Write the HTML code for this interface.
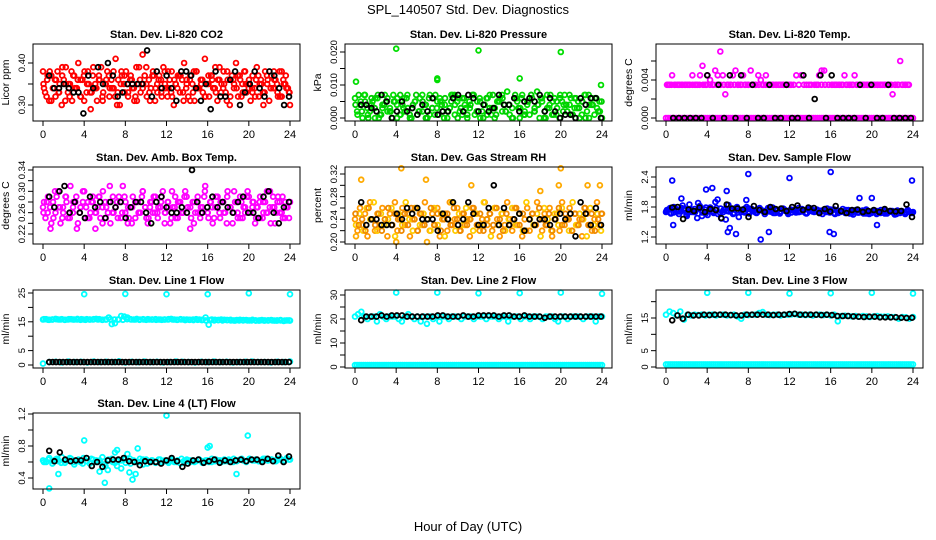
<!DOCTYPE html>
<html><head><meta charset="utf-8">
<style>
html,body{margin:0;padding:0;background:#fff}
svg{display:block;font-family:"Liberation Sans",Arial,sans-serif}
</style></head>
<body>
<svg id="chart" width="936" height="540" viewBox="0 0 936 540">
<text x="468" y="14" text-anchor="middle" font-size="13">SPL_140507  Std. Dev. Diagnostics</text>
<text x="468" y="531" text-anchor="middle" font-size="13">Hour of Day (UTC)</text>
</svg>
<script>
// ---- data arrays ----
const hourTicks = [0,4,8,12,16,20,24];

const co2Red = [0.38,0.33,0.36,0.31,0.37,0.34,0.32,0.38,0.35,0.30,0.36,0.39,0.33,0.35,0.31,0.37,0.34,0.40,0.32,0.36,0.38,0.33,0.35,0.29,0.37,0.34,0.31,0.36,0.39,0.33,0.35,0.38,0.32,0.36,0.34,0.41,0.33,0.30,0.37,0.35,0.38,0.32,0.36,0.34,0.31,0.39,0.35,0.33,0.42,0.37,0.32,0.36,0.34,0.38,0.31,0.35,0.37,0.33,0.39,0.34,0.32,0.36,0.38,0.30,0.35,0.37,0.33,0.36,0.40,0.34,0.32,0.37,0.35,0.31,0.38,0.34,0.36,0.33,0.41,0.35,0.32,0.37,0.34,0.39,0.31,0.36,0.35,0.38,0.33,0.36,0.30,0.37,0.34,0.40,0.32,0.36,0.35,0.38,0.33,0.35,0.31,0.37,0.34,0.39,0.32,0.36,0.33,0.38,0.35,0.31,0.37,0.34,0.36,0.33,0.38,0.32,0.35,0.37,0.34,0.30];
const co2Red2 = [0.34,0.37,0.31,0.36,0.33,0.39,0.35,0.32,0.37,0.34,0.36,0.31,0.38,0.33,0.35,0.37,0.32,0.36,0.34,0.38,0.30,0.35,0.37,0.33,0.36,0.32,0.39,0.34,0.35,0.31,0.37,0.33,0.36,0.38,0.34,0.32,0.35,0.37,0.33,0.36,0.31,0.38,0.34,0.35,0.32,0.37,0.36,0.33,0.39,0.34,0.31,0.36,0.35,0.37,0.32,0.38,0.34,0.33,0.36,0.35,0.30,0.37,0.34,0.36,0.32,0.38,0.35,0.33];
const co2Red3 = [0.35,0.32,0.38,0.34,0.36,0.33,0.37,0.31,0.35,0.38,0.34,0.36,0.32,0.37,0.35,0.33,0.39,0.34,0.36,0.31,0.35,0.37,0.34,0.32,0.36,0.38,0.33,0.35,0.37,0.34,0.31,0.36,0.35,0.39,0.33,0.37,0.34,0.36,0.32,0.35,0.38,0.33,0.36,0.34,0.37,0.31,0.35,0.36,0.33,0.38,0.34,0.36,0.32,0.35,0.37,0.34,0.36,0.33,0.35,0.38,0.32,0.36,0.34,0.37,0.33,0.35,0.36,0.34,0.32,0.37,0.35,0.33,0.36,0.34,0.38,0.35,0.32,0.36,0.34,0.33];
const co2Black = [0.37,0.34,0.34,0.35,0.34,0.33,0.33,0.28,0.37,0.34,0.39,0.35,0.40,0.37,0.32,0.33,0.35,0.35,0.35,0.35,0.43,0.32,0.38,0.34,0.37,0.34,0.31,0.38,0.38,0.37,0.34,0.31,0.35,0.29,0.38,0.32,0.32,0.36,0.38,0.30,0.33,0.35,0.38,0.34,0.32,0.38,0.37,0.34,0.30,0.32];

const presGreen = [0.006,0.001,0.004,0.000,0.007,0.003,0.002,0.005,0.000,0.006,0.001,0.004,0.007,0.002,0.003,0.000,0.005,0.006,0.001,0.004,0.002,0.007,0.000,0.003,0.005,0.001,0.006,0.002,0.004,0.000,0.007,0.003,0.001,0.005,0.006,0.002,0.004,0.000,0.003,0.007,0.001,0.005,0.002,0.006,0.004,0.000,0.003,0.007,0.001,0.005,0.006,0.002,0.004,0.001,0.007,0.003,0.000,0.005,0.006,0.002,0.004,0.008,0.001,0.003,0.006,0.005,0.000,0.007,0.002,0.004,0.001,0.006,0.003,0.008,0.000,0.005,0.002,0.007,0.004,0.001,0.006,0.003,0.000,0.005,0.007,0.002,0.004,0.001,0.006,0.003,0.000,0.005,0.007,0.002,0.004,0.006,0.001,0.003,0.005,0.000];
const presGreen2 = [0.002,0.005,0.007,0.001,0.004,0.006,0.000,0.003,0.005,0.002,0.007,0.004,0.001,0.006,0.003,0.000,0.005,0.002,0.007,0.004,0.001,0.006,0.003,0.005,0.000,0.002,0.007,0.004,0.006,0.001,0.003,0.005,0.007,0.002,0.000,0.004,0.006,0.001,0.003,0.005,0.007,0.002,0.004,0.000,0.006,0.003,0.001,0.005,0.007,0.002,0.004,0.006,0.000,0.003,0.005,0.001,0.007,0.004,0.002,0.006,0.003,0.005,0.001,0.007,0.000,0.004,0.006,0.002];
const presGreen3 = [0.004,0.007,0.002,0.005,0.000,0.006,0.003,0.007,0.001,0.004,0.006,0.002,0.005,0.000,0.007,0.003,0.006,0.001,0.004,0.007,0.002,0.005,0.000,0.006,0.003,0.007,0.001,0.004,0.006,0.002,0.005,0.007,0.000,0.003,0.006,0.001,0.004,0.007,0.002,0.005,0.000,0.006,0.003,0.007,0.001,0.005,0.006,0.002,0.004,0.000,0.007,0.003,0.006,0.001,0.005,0.007,0.002,0.004,0.006,0.000,0.003,0.007,0.001,0.005,0.006,0.002,0.004,0.007,0.001,0.006,0.003,0.005,0.000,0.007,0.004,0.006,0.002,0.005];
const presOutHours = [0.1,4.0,8.0,8.0,12.0,16.0,20.0,23.9];
const presOutVals = [0.011,0.021,0.012,0.0115,0.0205,0.012,0.020,0.010];
const presBlack = [0.004,0.004,0.003,0.002,0.007,0.005,0.000,0.002,0.005,0.002,0.003,0.001,0.004,0.002,0.006,0.001,0.002,0.002,0.006,0.007,0.002,0.007,0.006,0.002,0.004,0.002,0.003,0.007,0.004,0.004,0.006,0.002,0.005,0.006,0.005,0.007,0.002,0.006,0.002,0.000,0.001,0.001,0.000,0.006,0.004,0.006,0.006,0.000];

const tempLow = [0,0,0,0,0,0,0,0,0,0,0,0,0,0,0,0,0,0,0,0,0,0,0,0,0,0,0,0,0,0,0,0,0,0,0,0,0,0,0,0,0,0,0,0,0,0,0,0,0,0,0,0,0,0,0,0,0,0,0,0,0,0,0,0,0,0,0,0,0,0,0,0,0,0,0,0,0,0,0,0,0,0,0,0,0,0,0,0,0,0,0,0,0,0,0,0,0,0,0,0,0,0,0,0,0,0,0,0,0,0,0,0,0,0,0,0,0,0,0,0];
const tempMid = [0.0035,0.0035,0.0045,0.0035,0.0035,0.0035,0.0035,0.0035,0.0035,0.0035,0.0045,0.0035,0.0035,0.0045,0.0055,0.0035,0.0045,0.0040,0.0035,0.0050,0.0045,0.0070,0.0045,0.0025,0.0035,0.0035,0.0045,0.0050,0.0035,0.0035,0.0045,0.0035,0.0035,0.0050,0.0035,0.0035,0.0045,0.0040,0.0035,0.0045,0.0035,0.0035,0.0035,0.0035,0.0035,0.0035,0.0035,0.0035,0.0035,0.0035,0.0035,0.0045,0.0035,0.0045,0.0035,0.0035,0.0035,null,null,0.0035,0.0045,0.0050,0.0050,null,null,0.0035,0.0035,0.0035,0.0035,0.0035,0.0045,0.0035,0.0035,0.0035,0.0045,0.0035,0.0035,0.0035,0.0035,0.0035,0.0035,0.0035,0.0035,0.0035,0.0035,0.0035,0.0035,0.0035,0.0035,0.0025,0.0035,0.0035,0.0060,0.0035,0.0035,0.0035];
const tempMid2 = [0.0035,0.0035,0.0035,0.0035,0.0035,0.0035,0.0035,0.0035,0.0035,0.0035,0.0035,0.0035,0.0035,0.0035,0.0035,0.0035,0.0035,0.0035,0.0035,0.0035,0.0035,0.0035,0.0035,0.0035,0.0035,0.0035,0.0035,0.0035,0.0035,0.0035,0.0035,0.0035,0.0035,0.0035,0.0035,0.0035,null,null,null,null,null,0.0035,0.0035,0.0035,0.0035,0.0035,0.0035,0.0035,0.0035,0.0035,0.0035,0.0035,0.0035,0.0035,0.0035,0.0035,0.0035,0.0035,0.0035,0.0035,0.0035,0.0035,0.0035,0.0035,0.0035,0.0035,0.0035,0.0035,0.0035,0.0035];
const tempBlack = [0,0,0,0,0,0,0.0045,0,0.0035,0,0.0045,0,0.0045,0,0.0035,0,0,0.0035,0,0,0.0035,0,0,0.0045,0,0.0020,0.0045,0,0.0045,0,0,0,0,0.0035,0,0.0035,0,0,0.0035,0,0,0,0];

const ambMag = [0.27,0.25,0.29,0.23,0.28,0.26,0.30,0.24,0.27,0.29,0.25,0.31,0.26,0.28,0.24,0.27,0.30,0.25,0.28,0.26,0.29,0.23,0.27,0.25,0.30,0.28,0.26,0.24,0.29,0.27,0.25,0.28,0.31,0.26,0.24,0.27,0.29,0.25,0.28,0.26,0.30,0.27,0.24,0.28,0.26,0.29,0.25,0.27,0.30,0.26,0.28,0.24,0.27,0.29,0.25,0.28,0.26,0.30,0.27,0.23,0.28,0.26,0.29,0.25,0.27,0.31,0.26,0.28,0.24,0.27,0.29,0.25,0.28,0.26,0.30,0.27,0.24,0.28,0.26,0.29,0.25,0.27,0.30,0.26,0.28,0.24,0.27,0.29,0.25,0.28,0.26,0.30,0.27,0.24,0.28,0.26,0.29,0.25,0.27,0.28];
const ambMag2 = [0.28,0.26,0.24,0.30,0.27,0.25,0.29,0.26,0.28,0.23,0.27,0.30,0.25,0.28,0.26,0.29,0.24,0.27,0.31,0.26,0.28,0.25,0.29,0.27,0.24,0.28,0.26,0.30,0.25,0.27,0.29,0.26,0.28,0.24,0.27,0.30,0.25,0.28,0.26,0.29,0.27,0.24,0.28,0.26,0.30,0.25,0.27,0.29,0.26,0.28,0.24,0.27,0.30,0.25,0.28,0.26,0.29,0.27,0.25,0.28,0.26,0.30,0.24,0.27,0.29,0.26,0.28,0.25];
const ambMag3 = [0.26,0.28,0.27,0.25,0.29,0.27,0.26,0.28,0.25,0.27,0.29,0.26,0.28,0.27,0.25,0.28,0.26,0.29,0.27,0.25,0.28,0.26,0.27,0.29,0.26,0.28,0.25,0.27,0.28,0.26,0.29,0.27,0.25,0.28,0.26,0.27,0.29,0.26,0.28,0.25,0.27,0.28,0.26,0.29,0.27,0.25,0.28,0.26,0.27,0.29,0.26,0.28,0.25,0.27,0.28,0.26,0.29,0.27,0.26,0.28,0.25,0.27,0.29,0.26,0.28,0.27,0.25,0.28,0.26,0.27,0.29,0.26,0.28,0.25,0.27,0.28];
const ambBlack = [0.29,0.27,0.30,0.31,0.26,0.28,0.26,0.25,0.29,0.27,0.28,0.25,0.28,0.27,0.28,0.25,0.27,0.28,0.28,0.26,0.24,0.28,0.29,0.27,0.26,0.26,0.27,0.26,0.34,0.28,0.26,0.27,0.29,0.27,0.28,0.27,0.26,0.28,0.29,0.26,0.26,0.25,0.29,0.30,0.26,0.24,0.27,0.28];

const rhOrange = [0.24,0.22,0.26,0.23,0.25,0.21,0.27,0.24,0.22,0.25,0.23,0.26,0.24,0.21,0.25,0.23,0.27,0.22,0.24,0.26,0.23,0.25,0.21,0.24,0.26,0.22,0.25,0.23,0.27,0.24,0.22,0.25,0.23,0.26,0.21,0.24,0.25,0.22,0.27,0.23,0.24,0.26,0.22,0.25,0.23,0.24,0.21,0.26,0.25,0.23,0.22,0.24,0.27,0.23,0.25,0.22,0.26,0.24,0.21,0.25,0.23,0.27,0.24,0.22,0.26,0.23,0.25,0.21,0.24,0.26,0.22,0.25,0.23,0.27,0.24,0.22,0.25,0.23,0.26,0.21,0.24,0.25,0.22,0.27,0.23,0.24,0.26,0.22,0.25,0.23,0.24,0.21,0.26,0.25,0.23,0.22,0.24,0.27,0.23,0.25];
const rhYellow = [0.23,0.25,0.22,0.26,0.24,0.27,0.22,0.25,0.23,0.24,0.26,0.21,0.25,0.23,0.27,0.24,0.22,0.26,0.23,0.25,0.24,0.22,0.26,0.23,0.25,0.21,0.24,0.27,0.22,0.25,0.23,0.26,0.24,0.22,0.25,0.23,0.27,0.24,0.21,0.26,0.23,0.25,0.22,0.24,0.26,0.23,0.25,0.22,0.27,0.24,0.23,0.25,0.21,0.26,0.24,0.22,0.25,0.23,0.26,0.24,0.22,0.27,0.23,0.25,0.24,0.21,0.26,0.23,0.25,0.22];
const rhOrange2 = [0.25,0.23,0.24,0.22,0.26,0.24,0.23,0.25,0.22,0.24,0.26,0.23,0.25,0.24,0.22,0.25,0.23,0.26,0.24,0.22,0.25,0.23,0.24,0.26,0.23,0.25,0.22,0.24,0.25,0.23,0.26,0.24,0.22,0.25,0.23,0.24,0.26,0.23,0.25,0.22,0.24,0.25,0.23,0.26,0.24,0.22,0.25,0.23,0.24,0.26,0.23,0.25,0.22,0.24,0.25,0.23,0.26,0.24,0.23,0.25,0.22,0.24,0.26,0.23,0.25,0.24,0.22,0.25,0.23,0.24,0.26,0.23,0.25,0.22,0.24,0.25];
const rhOutHours = [0.1,0.6,4.5,6.9,11.3,20.0,22.6,23.8,4.0,19.8,7.0,18.0];
const rhOutVals = [0.21,0.31,0.33,0.31,0.30,0.33,0.30,0.30,0.20,0.30,0.20,0.29];
const rhBlack = [0.27,0.23,0.24,0.24,0.23,0.23,0.23,0.25,0.24,0.26,0.25,0.26,0.24,0.24,0.24,0.22,0.25,0.24,0.27,0.23,0.24,0.27,0.25,0.23,0.23,0.26,0.30,0.23,0.26,0.23,0.24,0.25,0.22,0.24,0.23,0.24,0.24,0.23,0.24,0.25,0.24,0.25,0.21,0.27,0.25,0.23,0.26,0.23];

const flowBlue = [1.70,1.75,1.68,1.80,1.72,1.66,1.78,1.74,1.62,1.85,1.70,1.76,1.58,1.82,1.69,1.75,1.64,1.79,1.72,1.90,1.66,1.77,1.70,1.55,1.84,1.73,1.68,1.78,1.60,1.74,1.71,1.80,1.67,1.76,1.72,1.69,1.78,1.73,1.66,1.75,1.71,1.79,1.68,1.74,1.70,1.77,1.72,1.66,1.75,1.73,1.69,1.78,1.71,1.74,1.67,1.76,1.72,1.70,1.75,1.68,1.73,1.71,1.77,1.69,1.74,1.66,1.72,1.70,1.76,1.68,1.73,1.71,1.65,1.74,1.69,1.72,1.67,1.75,1.70,1.68,1.73,1.66,1.71,1.69,1.74,1.67,1.72,1.70,1.65,1.73,1.68,1.71,1.66,1.74,1.69,1.70];
const flowBlue2 = [1.74,1.67,1.78,1.71,1.83,1.65,1.76,1.70,1.88,1.62,1.79,1.73,1.68,1.95,1.57,1.76,1.71,1.66,1.80,1.74,1.69,1.77,1.72,1.68,1.75,1.71,1.78,1.70,1.73,1.67,1.76,1.72,1.69,1.75,1.70,1.74,1.68,1.77,1.71,1.73,1.66,1.72,1.70,1.75,1.68,1.71,1.74,1.67,1.72,1.69,1.70,1.73,1.66,1.71,1.68,1.74,1.67,1.70,1.72,1.66,1.71,1.69,1.73,1.68];
const flowBlue3 = [1.72,1.78,1.69,1.75,1.71,1.77,1.68,1.74,1.70,1.76,1.73,1.67,1.75,1.71,1.78,1.69,1.74,1.72,1.76,1.68,1.73,1.70,1.77,1.71,1.74,1.69,1.75,1.72,1.70,1.76,1.68,1.73,1.71,1.75,1.69,1.74,1.72,1.70,1.76,1.68,1.73,1.71,1.74,1.69,1.72,1.70,1.75,1.68,1.73,1.71,1.70,1.74,1.68,1.72,1.69,1.73,1.67,1.71,1.70,1.72,1.68,1.71,1.69,1.72,1.67,1.70,1.72,1.68,1.71,1.69];
const flowOutHours = [0.6,0.7,1.5,3.9,4.5,5.9,6.0,6.8,8.0,9.2,10.0,12.0,16.0,16.3,15.9,18.8,20.0,20.5,23.9,6.2,7.8];
const flowOutVals = [2.33,1.44,1.97,2.15,2.18,2.12,1.30,1.26,2.46,1.15,1.30,2.38,2.50,1.26,1.30,1.98,1.98,1.44,2.33,1.38,1.94];
const flowBlack = [1.79,1.80,1.56,1.75,1.72,1.79,1.70,1.76,1.74,1.58,1.85,1.77,1.77,1.75,1.60,1.82,1.74,1.70,1.80,1.76,1.77,1.72,1.80,1.83,1.74,1.79,1.78,1.68,1.76,1.71,1.82,1.72,1.68,1.74,1.75,1.70,1.72,1.74,1.70,1.76,1.72,1.71,1.72,1.85,1.60];

const l1Cyan = [15.8,15.9,15.7,15.8,16.0,15.8,15.9,15.7,15.8,15.9,15.8,16.0,15.7,15.8,15.9,15.8,15.8,16.0,15.9,15.7,15.8,16.5,14.2,14.5,15.8,17.0,16.8,16.5,15.9,15.8,16.0,15.8,15.9,15.7,15.8,15.8,15.9,15.8,15.7,15.8,15.8,16.0,15.8,15.7,15.9,15.8,15.8,15.7,15.8,15.9,15.8,15.7,16.5,14.0,15.8,15.7,15.6,15.8,15.7,15.6,15.7,15.5,15.6,15.7,15.5,15.6,15.5,15.7,15.5,15.4,15.6,15.5,15.5,15.6,15.4,15.5,15.6,15.3,15.5,15.4];
const l1Cyan2 = [15.9,15.7,15.8,15.9,15.8,15.7,15.9,15.8,15.8,15.9,15.7,15.8,15.9,15.8,15.7,15.8,15.9,15.8,15.8,15.7,15.9,15.8,15.8,15.7,15.8,15.9,15.8,15.7,15.8,15.8,15.9,15.8,15.7,15.8,15.6,15.7,15.6,15.7,15.6,15.5,15.6,15.5,15.6,15.5,15.6,15.5,15.4,15.5,15.6,15.5,15.5,15.4,15.5,15.4,15.5,15.5,15.4,15.5,15.4,15.5];
const l1Low = [0.5,1.0,1.1,0.9,1.2,1.0,1.1,0.9,1.2,1.0,1.1,1.0,1.3,0.9,1.1,1.0,1.2,1.0,1.1,0.9,1.0,1.2,1.1,1.0,0.9,1.1,1.0,1.2,1.0,1.1,0.9,1.0,1.1,1.2,1.0,1.0,0.9,1.1,1.0,1.2];
const l1Black = [1.0,1.0,1.0,1.0,1.0,1.0,1.0,1.0,1.0,1.0,1.0,1.0,1.0,1.0,1.0,1.0,1.0,1.0,1.0,1.0,1.0,1.0,1.0,1.0,1.0,1.0,1.0,1.0,1.0,1.0,1.0,1.0,1.0,1.0,1.0,1.0,1.0,1.0,1.0,1.0,1.0,1.0,1.0,1.0,1.0,1.0,1.0,1.0,1.0,1.0,1.0,1.0,1.0,1.0,1.0,1.0,1.0,1.0,1.0,1.0,1.0,1.0,1.0,1.0,1.0,1.0,1.0,1.0,1.0,1.0];
const outHours = [4,8,12,16,20,24];
const l1OutVals = [24.6,24.7,24.6,24.6,24.9,24.6];

const l2Cyan = [21,22,23,21,20,21,21,19,22,21,20,21,21,21,20,19,21,22,21,20,21,19,21,18,21,20,21,19,21,21,20,21,21,21,20,21,21,21,20,21,21,21,20,21,21,21,20,21,21,19,21,21,21,20,21,21,20,21,21,21,20,21,21,21,20,19,21,21,20,21,21,21,21,20,21,21,21,19,21,21];
const lowBand = [0.8,0.8,0.8,0.8,0.8,0.8,0.8,0.8,0.8,0.8,0.8,0.8,0.8,0.8,0.8,0.8,0.8,0.8,0.8,0.8,0.8,0.8,0.8,0.8,0.8,0.8,0.8,0.8,0.8,0.8,0.8,0.8,0.8,0.8,0.8,0.8,0.8,0.8,0.8,0.8,0.8,0.8,0.8,0.8,0.8,0.8,0.8,0.8,0.8,0.8,0.8,0.8,0.8,0.8,0.8,0.8,0.8,0.8,0.8,0.8,0.8,0.8,0.8,0.8,0.8,0.8,0.8,0.8,0.8,0.8,0.8,0.8,0.8,0.8,0.8,0.8,0.8,0.8,0.8,0.8,0.8,0.8,0.8,0.8,0.8,0.8,0.8,0.8,0.8,0.8,0.8,0.8,0.8,0.8,0.8,0.8,0.8,0.8,0.8,0.8,0.8,0.8,0.8,0.8,0.8,0.8,0.8,0.8,0.8,0.8,0.8,0.8,0.8,0.8,0.8,0.8,0.8,0.8,0.8,0.8];
const l2Black = [19.5,21,21,21,21.5,21,21.5,21.5,21.5,21,21,21,21,21,21,21.5,21.5,21,21,21,21.5,21,21,21.5,21.5,21.5,21.5,21,21.5,21.5,21,21,21.5,21,21,21,20.5,21,21,21,21,21,21,21,21,21,21,21];
const l2OutVals = [31,31,30.7,30.8,31,30.5];

const l3Cyan = [16,17,16.5,15.8,17,14.5,16,15.8,16,15.9,16,15.8,16,16,15.8,16,16,15.8,15.9,16,15.5,14.8,16,15.9,16,16,16.5,16.8,16,15.9,16,16,15.8,16,16,16.1,16.2,16,16,15.9,16,15.8,16,16,15.9,16,15.8,16,14,15.6,15.7,15.6,15.5,15.6,15.4,15.6,15.5,15.3,15.5,15.6,15.4,15.4,15.5,15.3,15.3,14.8,15.3,15.2,14.8,15.3];
const l3Black = [14.3,15.8,14.8,16,15.8,15.8,16,15.9,16,16,16,15.9,15.8,15.8,16,16,16,16,16,15.9,16,16,16.2,16.3,16,16,16,16,15.9,16,15.9,15.6,15.6,15.6,15.5,15.4,15.3,15.4,15.4,15.2,15.2,15.2,15.2,15.1,15.0,15.1];
const l3OutVals = [22.7,22.7,22.5,22.6,22.7,22.5];

const l4Cyan = [0.62,0.60,0.65,0.58,0.63,0.61,0.66,0.59,0.62,0.64,0.57,0.62,0.60,0.65,0.61,0.58,0.63,0.62,0.60,0.66,0.55,0.62,0.64,0.59,0.61,0.52,0.63,0.70,0.58,0.62,0.60,0.64,0.57,0.63,0.61,0.62,0.59,0.63,0.60,0.62,0.61,0.63,0.60,0.62,0.58,0.61,0.63,0.60,0.62,0.61,0.63,0.59,0.62,0.60,0.64,0.61,0.62,0.60,0.63,0.61,0.62,0.64,0.61,0.63,0.62,0.60,0.64,0.62,0.63,0.61,0.62,0.64,0.62,0.63,0.61,0.64,0.63,0.62,0.65,0.63];
const l4Cyan2 = [0.60,0.63,0.61,0.64,0.59,0.62,0.65,0.60,0.63,0.58,0.61,0.64,0.60,0.62,0.57,0.63,0.60,0.55,0.62,0.59,0.64,0.61,0.60,0.63,0.58,0.62,0.60,0.63,0.61,0.59,0.62,0.60,0.64,0.61,0.62,0.60,0.63,0.61,0.62,0.60,0.63,0.62,0.61,0.63,0.60,0.62,0.64,0.61,0.63,0.62,0.61,0.64,0.62,0.63,0.61,0.64,0.62,0.63];
const l4OutHours = [0.6,1.5,4.0,5.5,6.0,6.3,7.0,8.4,8.7,9.2,12.0,16.0,16.2,18.8,19.9,9.0,7.2];
const l4OutVals = [0.27,0.45,0.87,0.48,0.34,0.50,0.72,0.47,0.38,0.77,1.18,0.78,0.80,0.45,0.93,0.45,0.75];
const l4Black = [0.74,0.61,0.72,0.63,0.61,0.62,0.62,0.65,0.55,0.60,0.54,0.62,0.63,0.63,0.65,0.61,0.60,0.56,0.61,0.60,0.60,0.58,0.62,0.65,0.61,0.54,0.58,0.62,0.63,0.59,0.61,0.63,0.59,0.62,0.60,0.62,0.63,0.61,0.63,0.63,0.60,0.64,0.61,0.68,0.60,0.67];

// ---- layout ----
const NS = 'http://www.w3.org/2000/svg';
const svg = document.getElementById('chart');
const cols = [33, 345, 656];
const rows = [[44,121],[167,244],[290,368],[413,489]];
const BOXW = 267;
function mk(tag, attrs, parent){ const e=document.createElementNS(NS,tag); for(const k in attrs) e.setAttribute(k,attrs[k]); (parent||svg).appendChild(e); return e; }

const panels = [
 {name:'co2', title:'Stan. Dev. Li-820 CO2', ylab:'Licor ppm', c:0,r:0, v0:0.30,p0:105, v1:0.40,p1:63, ticks:[0.30,0.35,0.40], labels:['0.30','','0.40'],
  series:[{v:co2Red,col:'#ff0000'},{v:co2Red2,col:'#ff0000',s:0.1,e:23.9},{v:co2Red3,col:'#ff0000',s:0.05,e:23.95},{v:co2Black,col:'#000',s:0.6,e:23.9}]},
 {name:'pressure', title:'Stan. Dev. Li-820 Pressure', ylab:'kPa', c:1,r:0, v0:0,p0:118, v1:0.02,p1:52, ticks:[0,0.005,0.01,0.015,0.02], labels:['0.000','','0.010','','0.020'],
  series:[{v:presGreen,col:'#00dd00'},{v:presGreen2,col:'#00dd00',s:0.2,e:23.8},{v:presGreen3,col:'#00cc00',s:0.05,e:23.95},{h:presOutHours,v:presOutVals,col:'#00dd00'},{v:presBlack,col:'#000',s:0.6,e:23.9}]},
 {name:'temp', title:'Stan. Dev. Li-820 Temp.', ylab:'degrees C', c:2,r:0, v0:0,p0:118, v1:0.004,p1:80, ticks:[0,0.002,0.004,0.006], labels:['0.000','','0.004',''],
  series:[{v:tempLow,col:'#ff00ff'},{v:tempMid,col:'#ff00ff',s:0.1,e:23.5},{v:tempMid2,col:'#ff00ff',s:0.2,e:23.6},{v:tempBlack,col:'#000',s:0.7,e:23.8}]},
 {name:'amb-temp', title:'Stan. Dev. Amb. Box Temp.', ylab:'degrees C', c:0,r:1, v0:0.22,p0:234, v1:0.34,p1:170, ticks:[0.22,0.24,0.26,0.28,0.30,0.32,0.34], labels:['0.22','','0.26','','0.30','','0.34'],
  series:[{v:ambMag,col:'#ff00ff'},{v:ambMag2,col:'#ff00ff',s:0.1,e:23.9},{v:ambMag3,col:'#ff00ff',s:0.05,e:23.95},{v:ambBlack,col:'#000',s:0.6,e:23.9}]},
 {name:'rh', title:'Stan. Dev. Gas Stream RH', ylab:'percent', c:1,r:1, v0:0.20,p0:242, v1:0.32,p1:174, ticks:[0.20,0.22,0.24,0.26,0.28,0.30,0.32], labels:['0.20','','0.24','','0.28','','0.32'],
  series:[{v:rhOrange,col:'#ff9900'},{v:rhYellow,col:'#ffcc00',s:0.1,e:23.9},{v:rhOrange2,col:'#ee8800',s:0.05,e:23.95},{h:rhOutHours,v:rhOutVals,col:'#ffaa00'},{v:rhBlack,col:'#000',s:0.6,e:23.9}]},
 {name:'sample-flow', title:'Stan. Dev. Sample Flow', ylab:'ml/min', c:2,r:1, v0:1.2,p0:237, v1:2.4,p1:177, ticks:[1.2,1.4,1.6,1.8,2.0,2.2,2.4], labels:['1.2','','','1.8','','','2.4'],
  series:[{v:flowBlue,col:'#0000ff'},{v:flowBlue2,col:'#0000ff',s:0.1,e:23.9},{v:flowBlue3,col:'#0000ff',s:0.05,e:23.95},{h:flowOutHours,v:flowOutVals,col:'#0000ff'},{v:flowBlack,col:'#000',s:0.6,e:23.9}]},
 {name:'line1-flow', title:'Stan. Dev. Line 1 Flow', ylab:'ml/min', c:0,r:2, v0:0,p0:365, v1:25,p1:293, ticks:[0,5,10,15,20,25], labels:['0','5','','15','','25'],
  series:[{v:l1Cyan,col:'#00ffff'},{v:l1Cyan2,col:'#00ffff',s:0.1,e:23.9},{v:l1Low,col:'#00ffff'},{h:outHours,v:l1OutVals,col:'#00ffff'},{v:l1Black,col:'#000',s:0.6,e:23.9}]},
 {name:'line2-flow', title:'Stan. Dev. Line 2 Flow', ylab:'ml/min', c:1,r:2, v0:0,p0:367, v1:30,p1:295, ticks:[0,5,10,15,20,25,30], labels:['0','','10','','20','','30'],
  series:[{v:l2Cyan,col:'#00ffff'},{v:lowBand,col:'#00ffff'},{h:outHours,v:l2OutVals,col:'#00ffff'},{v:l2Black,col:'#000',s:0.6,e:23.9}]},
 {name:'line3-flow', title:'Stan. Dev. Line 3 Flow', ylab:'ml/min', c:2,r:2, v0:0,p0:367, v1:15,p1:318, ticks:[0,5,10,15,20], labels:['0','5','','15',''],
  series:[{v:l3Cyan,col:'#00ffff'},{v:lowBand,col:'#00ffff'},{h:outHours,v:l3OutVals,col:'#00ffff'},{v:l3Black,col:'#000',s:0.6,e:23.9}]},
 {name:'line4-flow', title:'Stan. Dev. Line 4 (LT) Flow', ylab:'ml/min', c:0,r:3, v0:0.4,p0:478, v1:1.2,p1:414, ticks:[0.4,0.6,0.8,1.0,1.2], labels:['0.4','','0.8','','1.2'],
  series:[{v:l4Cyan,col:'#00ffff'},{v:l4Cyan2,col:'#00ffff',s:0.1,e:23.9},{h:l4OutHours,v:l4OutVals,col:'#00ffff'},{v:l4Black,col:'#000',s:0.6,e:23.9}]}
];

panels.forEach(p => {
  const L = cols[p.c], R = L + BOXW, T = rows[p.r][0], B = rows[p.r][1];
  const xs = h => L + 10 + h * (247/24);
  const ys = v => p.p0 + (v - p.v0) * (p.p1 - p.p0) / (p.v1 - p.v0);
  const g = mk('g', {});
  
  
  const t = mk('text', {x:(L+R)/2, y:T-6, 'text-anchor':'middle', 'font-size':11, 'font-weight':'bold'}, g);
  t.textContent = p.title;
  
  
  const marks = mk('g', {fill:'none','stroke-width':1.8}, g);
  
  
  p.series.forEach(s => {
    const n = s.v.length, st = s.s ?? 0, en = s.e ?? 24;
    s.v.forEach((v, i) => {
      if (v === null) return;
      const h = s.h ? s.h[i] : st + i * (en - st) / Math.max(1, n - 1);
      const c = mk('circle', {cx:xs(h).toFixed(1), cy:ys(v).toFixed(1), r:2.4, stroke:s.col}, marks);
      
      
    });
  });
  const box = mk('rect', {x:L, y:T, width:BOXW, height:B-T, fill:'none', stroke:'#000', 'stroke-width':1}, g);
  
  
  const xa = mk('g', {}, g);
  
  
  hourTicks.forEach(h => {
    mk('line', {x1:xs(h), x2:xs(h), y1:B, y2:B+5, stroke:'#000'}, xa);
    const tx = mk('text', {x:xs(h), y:B+17, 'text-anchor':'middle', 'font-size':11}, xa);
    tx.textContent = h;
    
    
  });
  const ya = mk('g', {}, g);
  
  
  p.ticks.forEach((v, i) => {
    const y = ys(v);
    mk('line', {x1:L-5, x2:L, y1:y, y2:y, stroke:'#000'}, ya);
    if (p.labels[i]) {
      const tx = mk('text', {x:L-8, y:y, 'text-anchor':'middle', 'font-size':9.5, transform:`rotate(-90 ${L-8} ${y})`}, ya);
      tx.textContent = p.labels[i];
      
      
    }
  });
  const yl = mk('text', {x:L-24, y:(T+B)/2, 'text-anchor':'middle', 'font-size':10.5, transform:`rotate(-90 ${L-24} ${(T+B)/2})`}, g);
  yl.textContent = p.ylab;
  
  
});
</script>
</body></html>
